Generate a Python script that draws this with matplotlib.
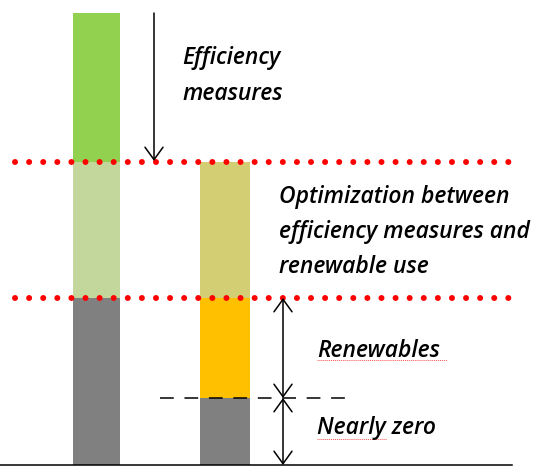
import matplotlib.pyplot as plt
import numpy as np

# levels above the baseline (arbitrary energy units)
nearly_zero = 67
renewable_level = 167
efficiency_level = 303

bar_x = [96, 225]
bar_w = [47, 50]
# segments from bottom to top for each bar
bar1_parts = [167, 136, 149]
bar1_colors = ['#808080', '#C3D69B', '#92D050']
bar2_parts = [67, 100, 136]
bar2_colors = ['#808080', '#FFC000', '#D3CE73']

fig = plt.figure(figsize=(5.37, 4.67), dpi=100)
ax = fig.add_axes([0, 0, 1, 1])
ax.set_xlim(0, 537)
ax.set_ylim(-2, 465)
ax.axis('off')

for xpos, w, parts, cols in [(bar_x[0], bar_w[0], bar1_parts, bar1_colors),
                             (bar_x[1], bar_w[1], bar2_parts, bar2_colors)]:
    bottom = 0
    for h, c in zip(parts, cols):
        ax.bar(xpos, h, bottom=bottom, width=w, color=c, edgecolor='none', zorder=1)
        bottom += h

# baseline
ax.plot([0, 512], [0, 0], color='black', lw=1.1, zorder=3)

# red dotted levels
for lev in [efficiency_level, renewable_level]:
    ax.plot([15, 518], [lev, lev], color='#FF0000', lw=4.3,
            linestyle=(0, (0.01, 2.35)), dash_capstyle='round', zorder=4)

# dashed nearly-zero level
ax.plot([160, 348], [nearly_zero, nearly_zero], color='black', lw=1.1,
        linestyle=(0, (9, 7)), zorder=3)

head = 'head_length=0.9,head_width=0.65'
ax.annotate('', xy=(154, efficiency_level + 1), xytext=(154, sum(bar1_parts)),
            arrowprops=dict(arrowstyle='->,' + head, lw=1.1, color='black',
                            shrinkA=0, shrinkB=0), zorder=5)
ax.annotate('', xy=(283, nearly_zero), xytext=(283, renewable_level),
            arrowprops=dict(arrowstyle='<->,' + head, lw=1.1, color='black',
                            shrinkA=0, shrinkB=0), zorder=5)
ax.annotate('', xy=(283, 0), xytext=(283, nearly_zero),
            arrowprops=dict(arrowstyle='<->,' + head, lw=1.1, color='black',
                            shrinkA=0, shrinkB=0), zorder=5)

fnt = dict(family='Open Sans', style='italic', fontweight='semibold', fontsize=16.5,
           color='black', va='baseline', ha='left')
ax.text(182, 465 - 64, 'Efficiency', **fnt)
ax.text(182, 465 - 100, 'measures', **fnt)
ax.text(279, 465 - 203, 'Optimization between', **fnt)
ax.text(279, 465 - 238, 'efficiency measures and', **fnt)
ax.text(279, 465 - 273, 'renewable use', **fnt)
ax.text(317, 465 - 357, 'Renewables', **fnt)
ax.text(317, 465 - 434, 'Nearly zero', **fnt)

# spell-check squiggles
ax.plot([317, 447], [465 - 360, 465 - 360], color='#FF5050', lw=0.7, linestyle=(0, (1, 1)))
ax.plot([317, 387], [465 - 439, 465 - 439], color='#FF5050', lw=0.7, linestyle=(0, (1, 1)))

fig.savefig('out.png', dpi=100)
